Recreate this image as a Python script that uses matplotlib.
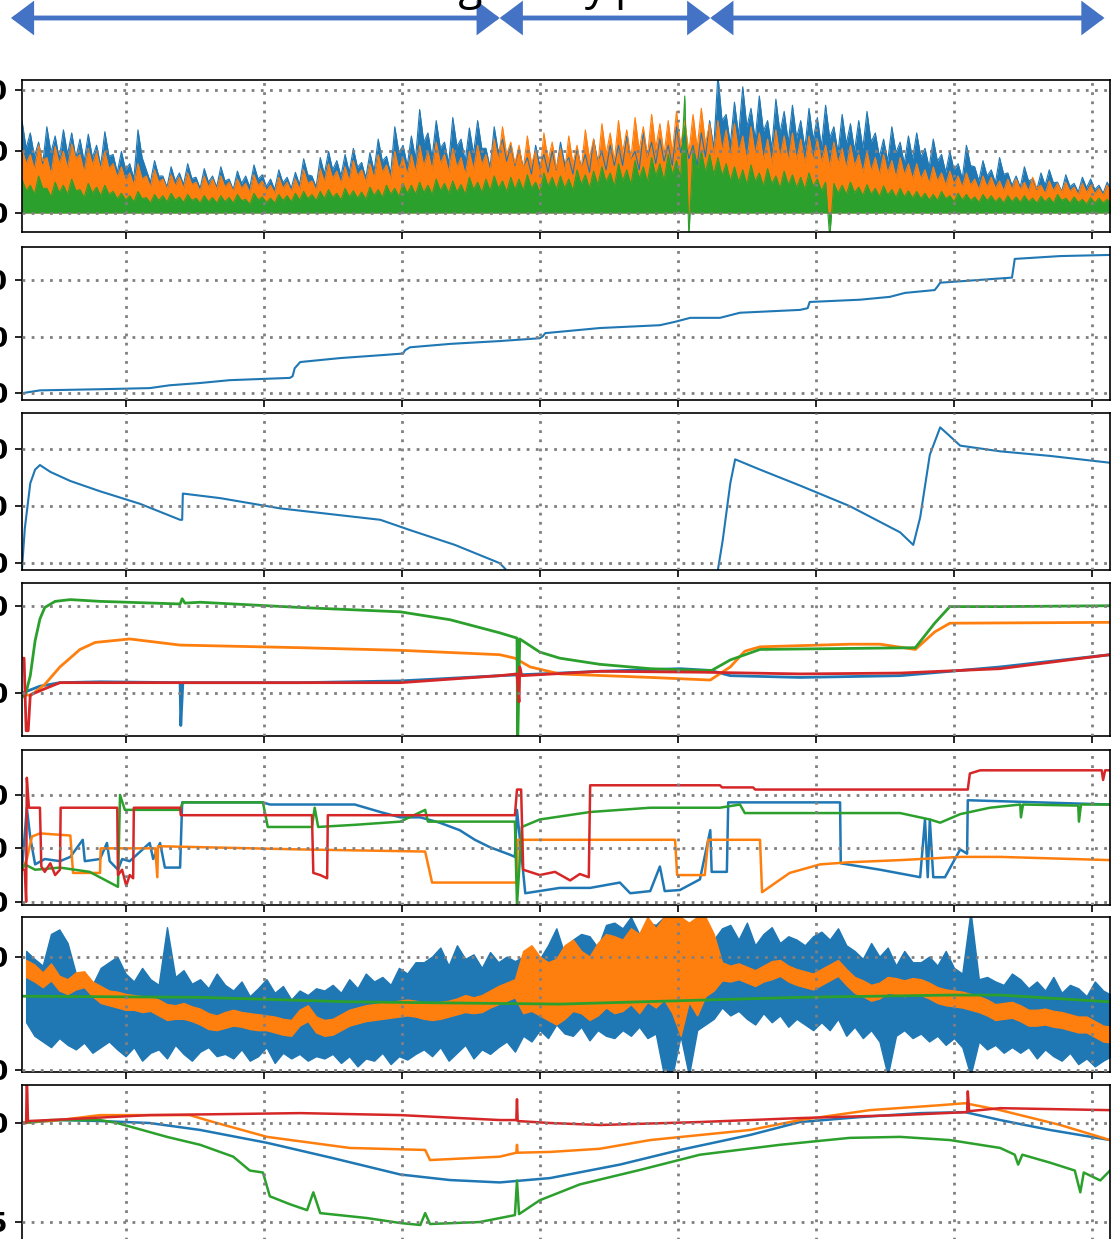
import numpy as np
import matplotlib.pyplot as plt
from matplotlib.patches import FancyArrowPatch

W, H = 1114, 1239
T_END = 7880
BIN = 60  # seconds per min/max bin of the noisy channels

# phase markers along the top (time, s)
phase_bounds = [-80, 3460, 4985, 7840]

# ---- panel 1: three noisy channels, max / min per bin ----
p1_blue_hi = [150, 130, 115, 140, 125, 135, 130, 120, 128, 110, 132, 95,
              100, 80, 135, 70, 85, 60, 75, 65, 80, 58, 72, 60,
              75, 55, 68, 60, 78, 62, 55, 70, 58, 66, 88, 60,
              90, 100, 85, 95, 105, 82, 98, 120, 92, 140, 110, 125,
              168, 130, 150, 115, 155, 120, 138, 150, 105, 140, 120, 110,
              105, 90, 110, 95, 100, 115, 90, 105, 95, 120, 100, 110,
              110, 125, 100, 130, 115, 120, 110, 140, 125, 110, 130, 150,
              225, 160, 180, 205, 170, 190, 150, 185, 165, 175, 150, 170,
              155, 175, 140, 160, 145, 150, 165, 130, 120, 140, 115, 125,
              130, 105, 120, 95, 100, 80, 110, 75, 85, 70, 90, 65,
              60, 75, 55, 65, 70, 50, 62, 48, 58, 55, 45, 50]
p1_blue_lo = [105, 92, 80, 98, 88, 95, 90, 84, 90, 77, 92, 66,
              70, 56, 90, 50, 60, 42, 52, 46, 56, 40, 50, 42,
              52, 38, 48, 42, 55, 43, 38, 49, 40, 46, 62, 42,
              63, 70, 60, 66, 74, 57, 68, 84, 64, 98, 77, 88,
              115, 90, 105, 80, 108, 84, 96, 105, 74, 98, 84, 77,
              74, 63, 77, 66, 70, 80, 63, 74, 66, 84, 70, 77,
              77, 88, 70, 91, 80, 84, 77, 98, 88, 77, 91, 105,
              150, 112, 126, 140, 119, 133, 105, 130, 115, 122, 105, 119,
              108, 122, 98, 112, 101, 105, 115, 91, 84, 98, 80, 88,
              91, 74, 84, 66, 70, 56, 77, 52, 60, 49, 63, 45,
              42, 52, 38, 45, 49, 35, 43, 34, 41, 38, 32, 35]
p1_orange_hi = [105, 95, 110, 90, 108, 100, 112, 95, 105, 98, 100, 80,
                75, 65, 80, 60, 70, 55, 62, 58, 65, 50, 60, 55,
                60, 50, 55, 48, 62, 52, 45, 58, 50, 55, 70, 52,
                72, 80, 68, 75, 85, 70, 80, 95, 78, 100, 90, 95,
                110, 100, 115, 95, 105, 90, 100, 110, 95, 120, 140, 115,
                110, 125, 100, 130, 115, 105, 125, 110, 135, 120, 145, 130,
                150, 135, 155, 140, 160, 145, 150, 165, 150, 160, 170, 145,
                150, 135, 145, 125, 140, 130, 120, 135, 125, 130, 120, 125,
                120, 110, 115, 105, 110, 95, 100, 90, 95, 85, 90, 80,
                80, 70, 75, 65, 68, 60, 65, 55, 60, 58, 52, 55,
                55, 50, 58, 45, 52, 48, 50, 42, 48, 45, 40, 45]
p1_orange_lo = [80, 70, 85, 62, 80, 72, 88, 66, 78, 70, 72, 58,
                52, 45, 55, 42, 50, 38, 44, 40, 46, 35, 42, 38,
                42, 35, 40, 33, 44, 36, 32, 40, 35, 38, 48, 36,
                50, 56, 48, 52, 60, 50, 56, 66, 55, 70, 62, 66,
                76, 70, 80, 66, 74, 62, 70, 78, 66, 84, 95, 80,
                70, 80, 62, 85, 72, 66, 80, 70, 88, 76, 95, 84,
                98, 88, 102, 92, 105, 95, 98, 110, 98, 105, 112, 95,
                100, 90, 98, 84, 95, 86, 80, 90, 84, 86, 80, 84,
                82, 75, 80, 72, 76, 65, 68, 62, 65, 58, 62, 55,
                55, 48, 52, 45, 47, 42, 45, 38, 42, 40, 36, 38,
                38, 35, 40, 31, 36, 33, 35, 29, 33, 31, 28, 31]
p1_green_hi = [55, 45, 60, 40, 50, 45, 55, 38, 48, 42, 45, 35,
               32, 28, 35, 25, 30, 28, 32, 26, 30, 24, 28, 25,
               28, 25, 30, 22, 32, 26, 24, 30, 28, 32, 35, 30,
               35, 38, 32, 40, 36, 34, 42, 38, 45, 40, 48, 45,
               50, 45, 55, 48, 52, 46, 58, 50, 55, 60, 52, 58,
               55, 62, 50, 65, 58, 60, 55, 70, 62, 68, 75, 65,
               80, 70, 85, 75, 90, 80, 95, 85, 190, 105, 100, 95,
               90, 80, 75, 70, 78, 65, 72, 60, 68, 62, 58, 65,
               55, 50, 48, 45, 50, 42, 46, 40, 44, 38, 40, 36,
               35, 32, 30, 35, 28, 32, 30, 26, 30, 28, 25, 28,
               26, 28, 24, 27, 25, 30, 24, 26, 22, 25, 24, 22]
p1_green_lo = [36, 30, 40, 26, 33, 30, 36, 25, 32, 28, 30, 23,
               21, 18, 23, 16, 20, 18, 21, 17, 20, 16, 18, 16,
               18, 16, 20, 14, 21, 17, 16, 20, 18, 21, 23, 20,
               23, 25, 21, 26, 24, 22, 28, 25, 30, 26, 32, 30,
               33, 30, 36, 32, 34, 30, 38, 33, 36, 40, 34, 38,
               36, 40, 33, 43, 38, 40, 36, 46, 40, 45, 50, 43,
               52, 46, 56, 50, 60, 52, 62, 56, -40, 70, 66, 62,
               60, 52, 50, 46, 51, 43, 47, 40, 45, 41, 38, 43,
               36, -40, 32, 30, 33, 28, 30, 26, 29, 25, 26, 24,
               23, 21, 20, 23, 18, 21, 20, 17, 20, 18, 16, 18,
               17, 18, 16, 18, 16, 20, 16, 17, 14, 16, 16, 14]

# ---- panel 2: cumulative counter ----
p2_t = [0, 130, 565, 925, 1070, 1290, 1505, 1940, 1960, 1975, 2015, 2305, 2595, 2760,
        2775, 2810, 3100, 3460, 3750, 3770, 3790, 4185, 4620, 4730, 4840, 5055, 5200,
        5635, 5690, 5705, 6070, 6285, 6395, 6610, 6630, 6650, 6940, 7170, 7180, 7190,
        7520, 7880]
p2_v = [0, 5, 7, 9, 14, 18, 23, 27, 30, 44, 55, 62, 67, 70, 76, 81, 87, 92, 97, 100,
        106, 115, 120, 126, 133, 133, 142, 147, 150, 161, 165, 170, 177, 182, 188, 195,
        200, 204, 220, 237, 242, 244]

# ---- panel 3: level with charge/decay cycles (gap = no signal) ----
p3_t = [0, 20, 60, 95, 130, 205, 350, 565, 855, 1145, 1160, 1165, 1435, 1870, 2160,
        2595, 2810, 3135, 3460, 3500, 3510, 5040, 5075, 5130, 5165, 5345, 5635, 5995,
        6360, 6455, 6505, 6575, 6650, 6705, 6795, 7085, 7445, 7880]
p3_v = [-5, 30, 70, 82, 86, 80, 72, 63, 52, 38, 38, 61, 57, 48, 44, 38, 29, 16, 0, -5,
        np.nan, -6, 20, 70, 91, 82, 68, 50, 27, 16, 40, 95, 119, 113, 103, 98, 94, 88]

# ---- panel 4: four temperatures ----
p4_blue_t = [0, 130, 275, 565, 1145, 1150, 1165, 2015, 2740, 3460, 4185, 4765, 4985,
             5130, 5635, 6360, 7085, 7880]
p4_blue_v = [0, 8, 12, 13, 12, -37, 12, 12, 14, 20, 25, 28, 26, 20, 18, 20, 30, 44]
p4_orange_t = [0, 60, 165, 275, 420, 530, 780, 1145, 2015, 2740, 3460, 3570, 3680,
               3895, 4550, 4985, 5130, 5235, 5345, 5995, 6215, 6470, 6610, 6720, 7880]
p4_orange_v = [0, -3, 10, 30, 50, 58, 62, 55, 52, 49, 44, 40, 30, 22, 18, 15, 30, 48,
               53, 56, 56, 50, 70, 80, 81]
p4_green_t = [0, 20, 60, 95, 130, 165, 240, 350, 565, 1145, 1160, 1180, 1290, 2015,
              2740, 3100, 3460, 3585, 3590, 3605, 3750, 3895, 4185, 4550, 4910, 4995,
              5130, 5345, 6470, 6610, 6720, 7085, 7880]
p4_green_v = [0, -5, 20, 60, 85, 98, 105, 107, 105, 102, 108, 103, 104, 98, 93, 84, 69,
              63, -60, 62, 47, 40, 33, 28, 26, 26, 38, 50, 52, 80, 99, 99, 100]
p4_red_t = [0, 15, 30, 45, 60, 165, 275, 1290, 2740, 3460, 3585, 3600, 3605, 3620,
            4185, 4910, 5635, 6360, 7085, 7880]
p4_red_v = [40, 40, -43, -43, -2, 5, 12, 12, 12, 20, 22, -10, 30, 20, 25, 24, 22, 23,
            28, 44]

# ---- panel 5: four set-point / state signals ----
p5_blue_t = [0, 35, 60, 95, 165, 275, 350, 440, 455, 565, 615, 635, 695, 725, 780, 925,
             950, 1000, 1035, 1145, 1160, 1745, 1795, 2410, 2595, 2740, 2885, 3025,
             3170, 3280, 3390, 3535, 3570, 3585, 3605, 3645, 3895, 4115, 4330, 4405,
             4550, 4620, 4655, 4765, 4910, 4985, 4995, 5105, 5115, 5925, 5930, 6215,
             6505, 6540, 6560, 6575, 6600, 6685, 6795, 6845, 6850, 7880]
p5_blue_v = [30, 88, 60, 35, 40, 38, 42, 58, 38, 40, 55, 38, 30, 40, 38, 55, 40, 55,
             32, 32, 93, 93, 91, 91, 84, 79, 79, 74, 67, 58, 51, 44, 42, 86, 60, 8, 13,
             13, 18, 8, 10, 33, 10, 11, 21, 67, 28, 28, 93, 93, 36, 30, 23, 77, 23, 77,
             23, 23, 49, 45, 95, 91]
p5_orange_t = [0, 35, 72, 130, 350, 370, 565, 570, 965, 980, 985, 2015, 2920, 2970,
               3585, 3590, 4730, 4745, 4945, 4970, 5345, 5360, 5560, 5780, 5995, 6360,
               6795, 7085, 7880]
p5_orange_v = [30, 40, 61, 64, 62, 27, 27, 50, 50, 23, 52, 49, 47, 18, 18, 58, 58, 25,
               25, 58, 58, 9, 27, 35, 37, 39, 42, 42, 39]
p5_green_t = [0, 20, 95, 275, 490, 695, 710, 745, 1145, 1165, 1745, 1780, 2100, 2120,
              2145, 2410, 2740, 2920, 2940, 3570, 3585, 3620, 3750, 4115, 4550, 5055,
              5200, 5235, 6360, 6575, 6650, 6795, 7010, 7230, 7235, 7250, 7650, 7655,
              7670, 7880]
p5_green_v = [30, 35, 30, 32, 28, 14, 100, 86, 86, 93, 93, 70, 70, 88, 70, 72, 75, 86,
              75, 75, -3, 70, 77, 84, 88, 88, 91, 83, 83, 77, 74, 82, 88, 91, 79, 91, 90,
              75, 91, 91]
p5_red_t = [0, 20, 30, 35, 50, 130, 140, 165, 205, 240, 275, 280, 690, 695, 725, 755,
            780, 805, 810, 1145, 1150, 2100, 2110, 2160, 2210, 2215, 3570, 3585, 3615,
            3630, 3750, 3860, 3970, 4040, 4105, 4115, 5055, 5070, 5295, 5310, 6850,
            6865, 6940, 7820, 7830, 7845, 7880]
p5_red_v = [30, 30, 0, 116, 88, 88, 33, 28, 36, 25, 30, 88, 88, 25, 30, 15, 25, 22, 88,
            88, 81, 81, 27, 25, 22, 81, 81, 105, 105, 30, 25, 28, 20, 26, 23, 109, 109,
            107, 107, 105, 105, 120, 123, 123, 114, 123, 123]

# ---- panel 6: raw signal (min/max per bin), filtered signal, trend ----
p6_blue_hi = [105, 98, 92, 120, 124, 112, 85, 80, 75, 90, 95, 100,
              85, 78, 90, 80, 75, 126, 82, 88, 76, 80, 72, 85,
              75, 70, 78, 65, 72, 80, 68, 74, 62, 70, 66, 72,
              70, 75, 68, 80, 72, 85, 78, 82, 75, 90, 85, 95,
              95, 100, 108, 92, 110, 98, 102, 90, 104, 95, 100, 96,
              100, 105, 98, 110, 125, 102, 115, 120, 118, 108, 128, 130,
              125, 135, 120, 130, 128, 135, 118, 135, 110, 135, 130, 115,
              125, 128, 115, 130, 110, 120, 126, 112, 118, 115, 110, 118,
              122, 115, 125, 110, 105, 98, 112, 100, 108, 92, 105, 95,
              95, 100, 92, 105, 90, 85, 140, 80, 82, 78, 75, 85,
              80, 72, 78, 70, 82, 68, 75, 72, 65, 78, 70, 66]
p6_blue_lo = [42, 30, 25, 20, 28, 22, 18, 24, 15, 20, 25, 18,
              12, 20, 8, 15, 18, 10, 22, 14, 8, 16, 20, 12,
              14, 10, 18, 8, 12, 20, 6, 15, 10, 14, 8, 12,
              10, 14, 6, 12, 3, 10, 8, 15, 5, 12, 9, 14,
              18, 12, 20, 8, 15, 22, 10, 18, 14, 20, 25, 16,
              30, 25, 35, 28, 40, 32, 30, 38, 26, 35, 30, 28,
              35, 30, 38, 28, 32, -5, -5, 30, -5, 35, 40, 45,
              55, 48, 52, 45, 40, 50, 42, 48, 38, 45, 40, 35,
              42, 35, 45, 30, 38, 28, 35, 25, -5, 30, 35, 28,
              32, 25, 30, 22, 28, 20, -5, 25, 18, 22, 15, 20,
              15, 20, 10, 18, 12, 8, 15, 5, 10, 3, 8, 12]
p6_orange_hi = [97, 93, 86, 94, 83, 80, 86, 87, 78, 74, 70, 69,
                67, 66, 65, 64, 62, 58, 57, 59, 56, 54, 50, 48,
                51, 53, 51, 50, 49, 48, 47, 45, 44, 53, 57, 47,
                44, 45, 49, 53, 55, 57, 58, 59, 60, 61, 62, 61,
                59, 58, 60, 61, 63, 66, 64, 66, 70, 74, 77, 80,
                105, 110, 100, 95, 98, 110, 115, 105, 100, 112, 120, 118,
                115, 125, 120, 135, 125, 135, 135, 135, 130, 135, 135, 120,
                95, 92, 94, 91, 88, 92, 96, 97, 92, 89, 87, 85,
                89, 93, 97, 89, 82, 79, 75, 77, 82, 81, 79, 81,
                80, 77, 73, 71, 70, 69, 67, 65, 62, 58, 59, 60,
                57, 53, 53, 54, 52, 51, 49, 47, 47, 43, 39, 38]
p6_orange_lo = [82, 78, 73, 79, 70, 67, 71, 73, 65, 59, 57, 55,
                53, 53, 51, 52, 48, 44, 45, 45, 43, 40, 36, 35,
                37, 39, 38, 36, 35, 35, 33, 31, 30, 39, 43, 33,
                30, 31, 35, 39, 41, 43, 44, 45, 46, 47, 48, 47,
                45, 44, 45, 47, 49, 51, 50, 51, 55, 58, 61, 64,
                50, 52, 48, 44, 40, 45, 52, 50, 44, 48, 55, 50,
                52, 58, 50, 60, 55, 62, 50, 30, 60, 48, 65, 70,
                79, 78, 80, 77, 74, 78, 80, 83, 78, 75, 73, 71,
                75, 79, 83, 75, 68, 65, 61, 63, 68, 67, 65, 67,
                66, 63, 59, 57, 56, 55, 53, 51, 48, 44, 45, 46,
                43, 39, 39, 40, 38, 37, 35, 33, 33, 29, 25, 24]
p6_green_t = [0, 1290, 2375, 3895, 5635, 6720, 7085, 7880]
p6_green_v = [65, 64, 60, 58, 64, 66, 66, 60]

# ---- panel 7: four drifting offsets ----
p7_blue_t = [0, 275, 565, 925, 1290, 1775, 2250, 2740, 3100, 3460, 3825, 4330, 4765,
             5275, 5635, 6070, 6505, 6830, 7085, 7445, 7880]
p7_blue_v = [0, 0.15, 0.1, 0.0, -0.35, -1.0, -1.77, -2.6, -2.88, -3.0, -2.78, -2.1,
             -1.36, -0.6, 0.05, 0.3, 0.5, 0.55, 0.15, -0.35, -0.86]
p7_orange_t = [0, 275, 565, 1215, 1360, 1775, 2375, 2920, 2955, 3460, 3580, 3585, 3590,
               3825, 4185, 4550, 5275, 5635, 6140, 6650, 6830, 7085, 7520, 7880]
p7_orange_v = [0, 0.15, 0.4, 0.4, 0.1, -0.7, -1.26, -1.36, -1.87, -1.7, -1.5, -1.1,
               -1.5, -1.46, -1.3, -0.86, -0.35, 0.15, 0.65, 0.9, 1.0, 0.65, -0.1, -0.86]
p7_green_t = [0, 205, 565, 690, 1050, 1290, 1530, 1650, 1745, 1795, 1940, 2065, 2110,
              2160, 2500, 2740, 2885, 2920, 2955, 3315, 3570, 3585, 3600, 3750, 4040,
              4475, 4910, 5490, 5995, 6360, 6720, 7085, 7190, 7215, 7245, 7445, 7625,
              7665, 7690, 7810, 7880]
p7_green_v = [0, 0.15, 0.15, 0, -0.7, -1.1, -1.7, -2.4, -2.5, -3.7, -4.1, -4.4, -3.5,
              -4.55, -4.8, -5.05, -5.15, -4.55, -5.1, -5.0, -4.65, -2.9, -4.6, -3.9,
              -3.1, -2.37, -1.6, -1.1, -0.75, -0.7, -0.86, -1.26, -1.6, -2.1, -1.6, -2.0,
              -2.4, -3.5, -2.5, -2.9, -2.4]
p7_red_t = [0, 30, 35, 43, 205, 925, 2015, 2740, 3460, 3580, 3585, 3590, 3825, 4185,
            4910, 5635, 6360, 6845, 6850, 6860, 7085, 7880]
p7_red_v = [0, 0, 2.5, 0.1, 0.15, 0.4, 0.5, 0.4, 0.15, 0.15, 1.2, 0.1, 0.0, -0.1, 0.05,
            0.25, 0.4, 0.55, 1.6, 0.6, 0.75, 0.65]

# panel layout: (top, bottom) in pixels, y limits, y ticks
panels = [
    ((80, 232), (-31, 216), [0, 100, 200]),
    ((247, 400), (-12, 258), [0, 100, 200]),
    ((413, 570), (-6, 131.6), [0, 50, 100]),
    ((583, 736), (-49, 126), [0, 100]),
    ((750, 905), (-3, 142), [0, 50, 100]),
    ((917, 1072), (-2, 135), [0, 100]),
    ((1085, 1245), (-6.16, 1.92), [-5, 0]),
]

C0, C1, C2, C3 = '#1f77b4', '#ff7f0e', '#2ca02c', '#d62728'


def spiky_mass(ax, hi, lo, color):
    """Min/max per bin drawn as a solid mass rising from zero."""
    hi = np.asarray(hi, float)
    lo = np.asarray(lo, float)
    t = np.arange(len(hi)) * BIN
    x = np.column_stack([t, t + BIN / 2]).ravel()
    y = np.column_stack([hi, lo]).ravel()
    ax.fill_between(x, 0, y, color=color, lw=0)
    ax.plot(x, y, color=color, lw=0.8)


def band(ax, hi, lo, color):
    """Min/max per bin drawn as a filled band."""
    t = np.arange(len(hi)) * BIN + BIN / 2
    ax.fill_between(t, lo, hi, color=color, lw=1, edgecolor=color)


fig = plt.figure(figsize=(W / 100, H / 100), dpi=100)
axes = []
for (top, bot), ylim, yt in panels:
    ax = fig.add_axes([22 / W, 1 - bot / H, (1110 - 22) / W, (bot - top) / H])
    ax.set_xlim(0, T_END)
    ax.set_xticks(np.arange(750, T_END, 1000))
    ax.set_ylim(*ylim)
    ax.set_yticks(yt)
    ax.tick_params(labelbottom=False, length=5, width=1.2, labelsize=19, pad=5)
    for lab in ax.get_yticklabels():
        lab.set_fontweight('bold')
    ax.grid(True, color='gray', lw=2, linestyle=(0, (1, 2.3)))
    ax.set_axisbelow(False)
    for s in ax.spines.values():
        s.set_linewidth(1.2)
    axes.append(ax)

ax1, ax2, ax3, ax4, ax5, ax6, ax7 = axes

spiky_mass(ax1, p1_blue_hi, p1_blue_lo, C0)
spiky_mass(ax1, p1_orange_hi, p1_orange_lo, C1)
spiky_mass(ax1, p1_green_hi, p1_green_lo, C2)

ax2.plot(p2_t, p2_v, color=C0, lw=1.5)
ax3.plot(p3_t, p3_v, color=C0, lw=1.5)

for t, v, c in [(p4_blue_t, p4_blue_v, C0), (p4_orange_t, p4_orange_v, C1),
                (p4_green_t, p4_green_v, C2), (p4_red_t, p4_red_v, C3)]:
    ax4.plot(t, v, color=c, lw=2)

for t, v, c in [(p5_blue_t, p5_blue_v, C0), (p5_orange_t, p5_orange_v, C1),
                (p5_green_t, p5_green_v, C2), (p5_red_t, p5_red_v, C3)]:
    ax5.plot(t, v, color=c, lw=1.8)

band(ax6, p6_blue_hi, p6_blue_lo, C0)
band(ax6, p6_orange_hi, p6_orange_lo, C1)
ax6.plot(p6_green_t, p6_green_v, color=C2, lw=2)

for t, v, c in [(p7_blue_t, p7_blue_v, C0), (p7_orange_t, p7_orange_v, C1),
                (p7_green_t, p7_green_v, C2), (p7_red_t, p7_red_v, C3)]:
    ax7.plot(t, v, color=c, lw=1.8)


# phase arrows above the panels, on the same time scale
def t_to_fig(t):
    return (22 + t / T_END * (1110 - 22)) / W


y_arrow = 1 - 18 / H
for a, b in zip(phase_bounds[:-1], phase_bounds[1:]):
    fig.add_artist(FancyArrowPatch((t_to_fig(a), y_arrow), (t_to_fig(b), y_arrow),
                                   transform=fig.transFigure,
                                   arrowstyle='<|-|>,head_length=0.6,head_width=0.45',
                                   mutation_scale=20, lw=3.5, color='#4472C4',
                                   shrinkA=0, shrinkB=0, joinstyle='miter'))

# phase names sit above the top edge; only their descenders show
fig.text(t_to_fig(3340), 1 + 1 / H, 'Driving', ha='right', va='baseline',
         fontsize=32, family='Open Sans')
fig.text(t_to_fig(4245), 1 + 1 / H, 'Heavy', ha='right', va='baseline',
         fontsize=32, family='Open Sans')
fig.text(t_to_fig(4290), 1 + 1 / H, 'phase', ha='left', va='baseline',
         fontsize=32, family='Open Sans')

fig.savefig('out.png', dpi=100)
